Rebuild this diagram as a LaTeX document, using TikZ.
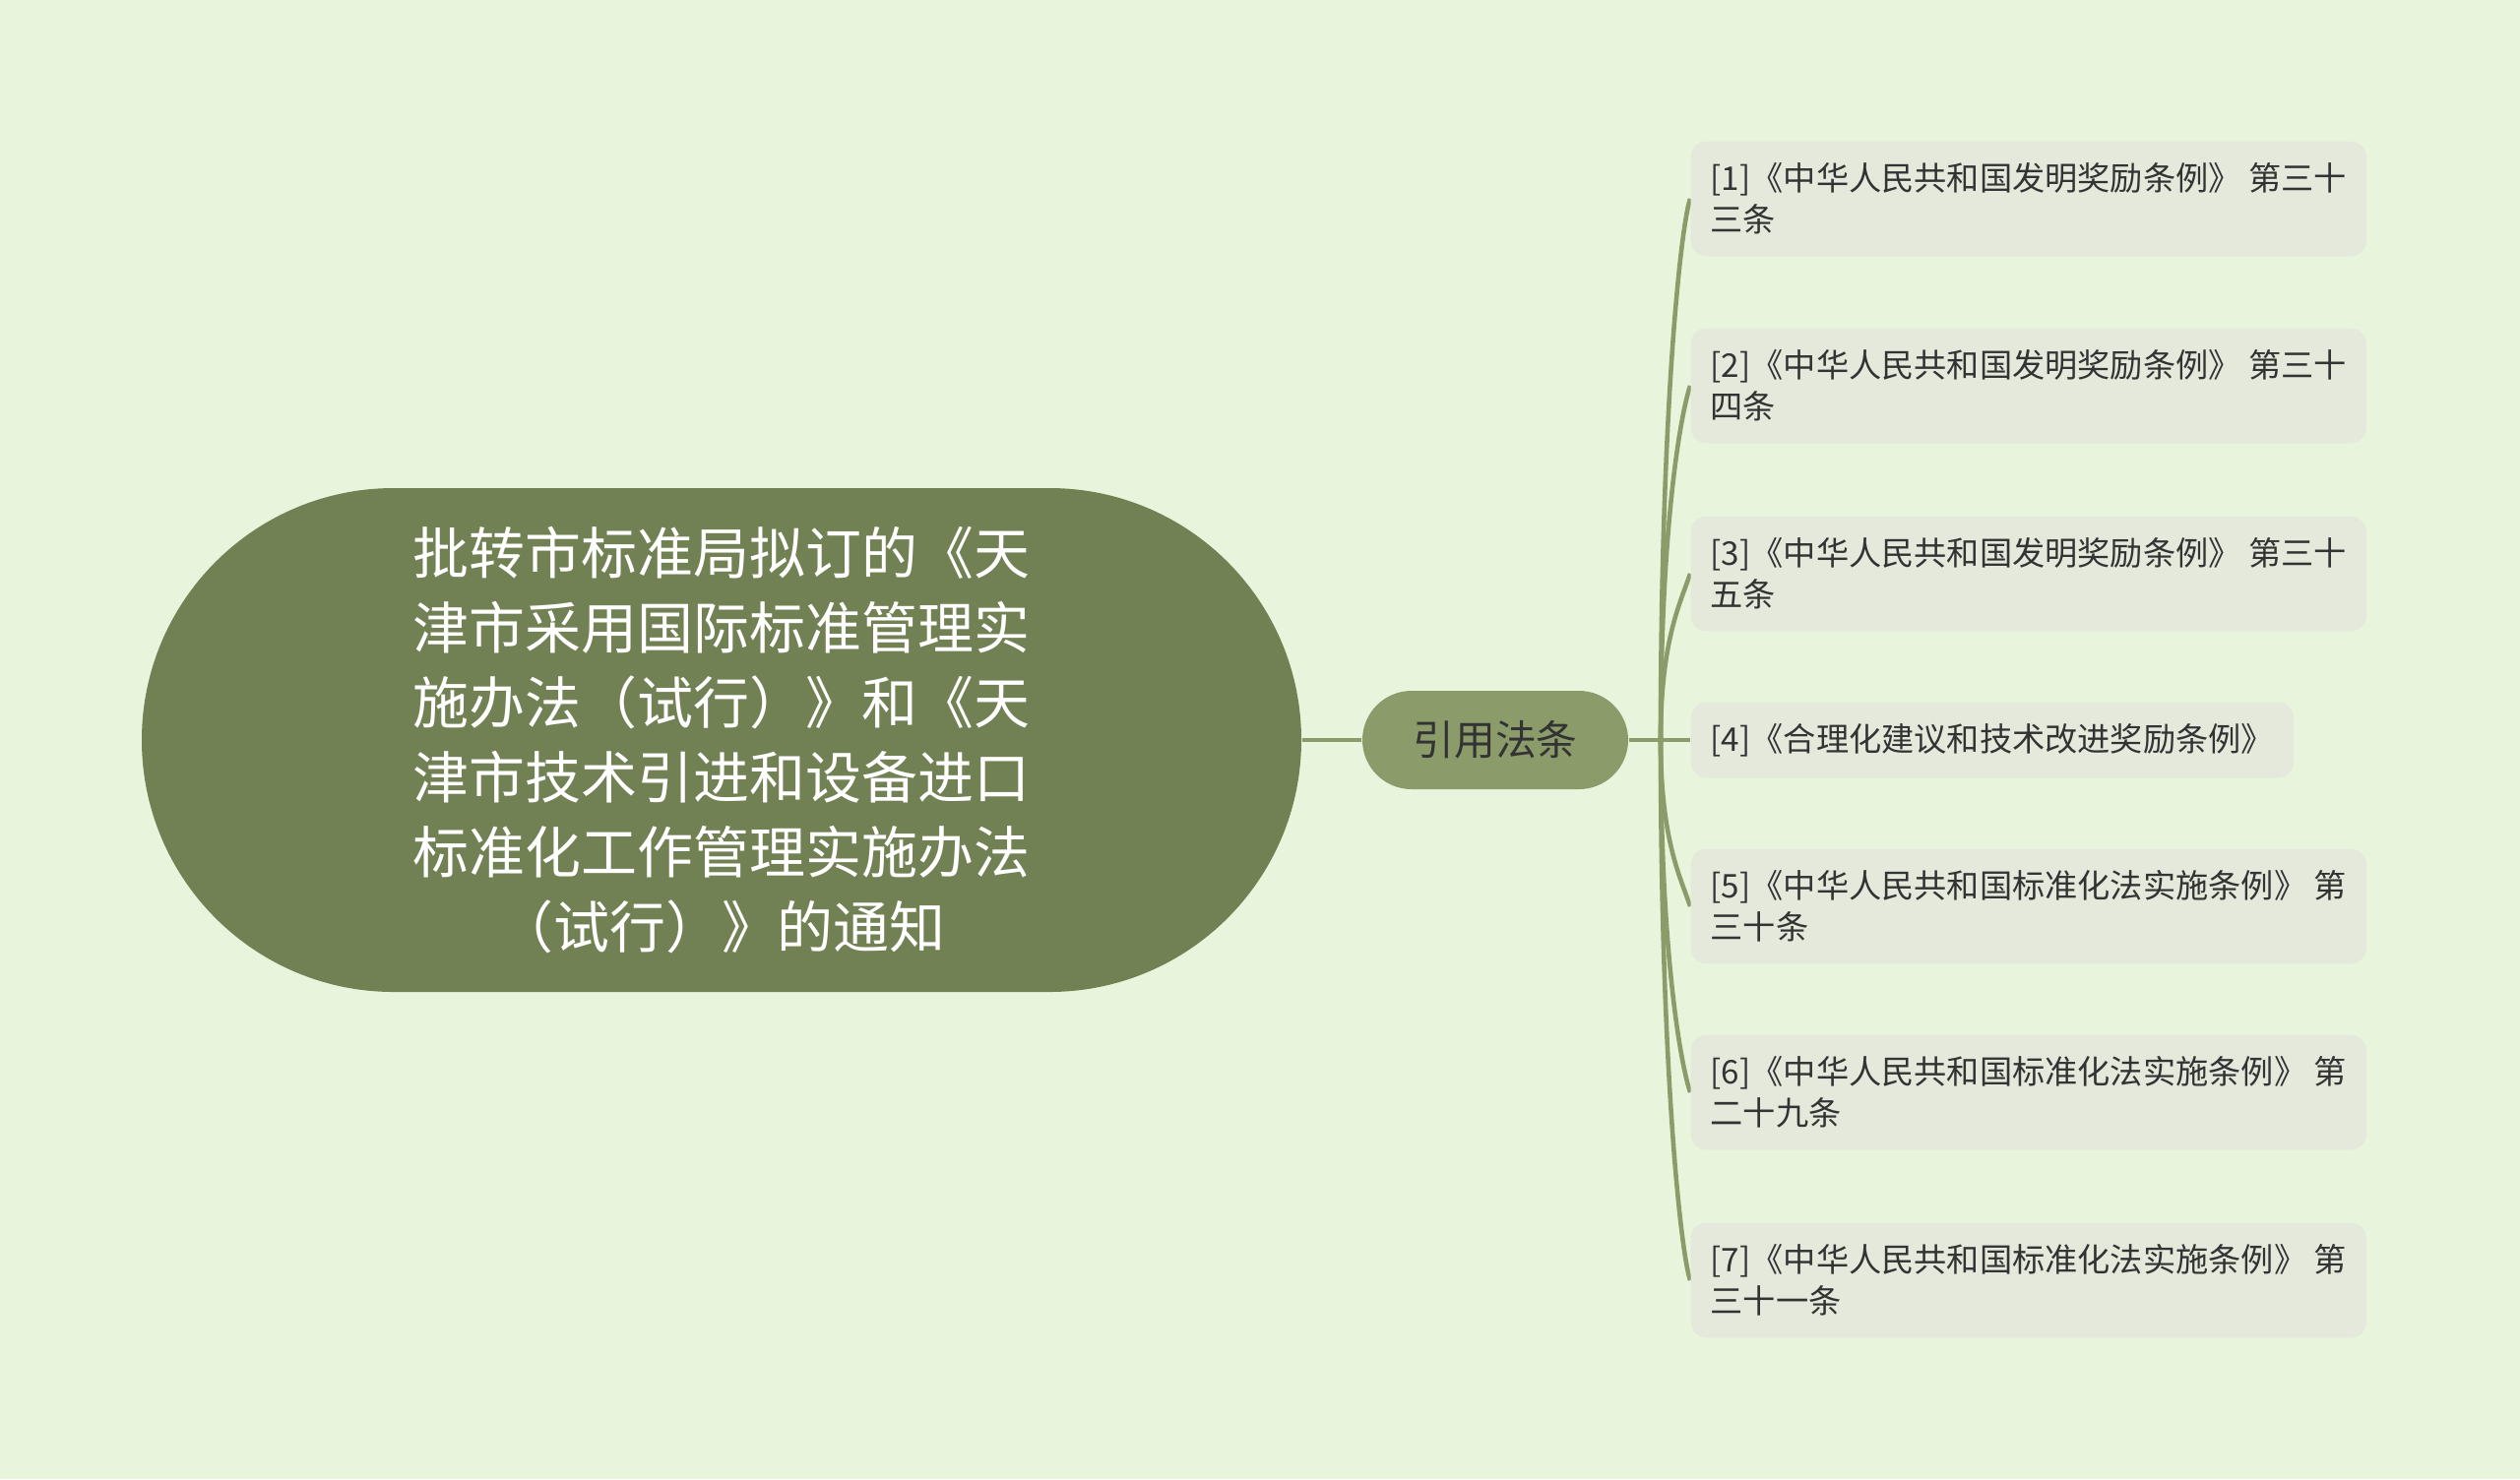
\documentclass[tikz,border=0pt]{standalone}
\usepackage{fontspec}
\setmainfont{Noto Sans CJK SC}
\usepackage{tikz}
\usetikzlibrary{calc}
\usetikzlibrary{positioning}
\usetikzlibrary{backgrounds}

\definecolor{bgcol}{HTML}{E8F5DC}
\definecolor{rootcol}{HTML}{728154}
\definecolor{midcol}{HTML}{8B9B6A}
\definecolor{leafcol}{HTML}{E4E9DC}
\definecolor{txtcol}{HTML}{333333}

\begin{document}
\begin{tikzpicture}[
        rootnode/.style={rectangle, fill=rootcol, text=white, rounded corners=2.56cm,
            minimum width=11.78cm, minimum height=5.12cm, align=center,
            font=\fontsize{16.2pt}{21.6pt}\selectfont},
        midnode/.style={rectangle, fill=midcol, text=txtcol, rounded corners=0.5cm,
            minimum width=2.70cm, minimum height=1.00cm,
            font=\fontsize{11.9pt}{14pt}\selectfont},
        leafnode/.style={rectangle, fill=leafcol, text=txtcol, rounded corners=0.16cm,
            anchor=west, align=left, inner xsep=0.2cm, minimum height=1.17cm,
            font=\fontsize{9.45pt}{11.9pt}\selectfont},
        link/.style={draw=midcol, line width=1.3pt}
    ]
        \useasboundingbox (0,0) rectangle (25.6,-15.03);

        \node[rootnode] (root) at (7.33,-7.52)
            {批转市标准局拟订的《天\\津市采用国际标准管理实\\施办法（试行）》和《天\\津市技术引进和设备进口\\标准化工作管理实施办法\\（试行）》的通知};
        \node[midnode] (law) at (15.19,-7.52) {引用法条};
        \coordinate (trunk) at (16.87,-7.52);

        \begin{scope}[every node/.style={leafnode}]
            \node (l1) at (17.17,-2.02) {[1]《中华人民共和国发明奖励条例》 第三十\\三条};
            \node (l2) at (17.17,-3.92) {[2]《中华人民共和国发明奖励条例》 第三十\\四条};
            \node (l3) at (17.17,-5.83) {[3]《中华人民共和国发明奖励条例》 第三十\\五条};
            \node[minimum height=0.77cm] (l4) at (17.17,-7.52) {[4]《合理化建议和技术改进奖励条例》};
            \node (l5) at (17.17,-9.21) {[5]《中华人民共和国标准化法实施条例》 第\\三十条};
            \node (l6) at (17.17,-11.10) {[6]《中华人民共和国标准化法实施条例》 第\\二十九条};
            \node (l7) at (17.17,-13.01) {[7]《中华人民共和国标准化法实施条例》 第\\三十一条};
        \end{scope}

        \begin{scope}[on background layer]
            \fill[bgcol] (0,0) rectangle (25.6,-15.03);
            \draw[link] (root.east) -- (law.west);
            \draw[link] (law.east) -- (trunk) -- (l4.west);
            \foreach \leaf/\s in {l1/1,l2/1,l3/1,l5/-1,l6/-1,l7/-1}
                \draw[link] (trunk)
                    .. controls ($(trunk)!0.6!(trunk|-\leaf.west)$)
                    and ($(\leaf.west)+(-0.1,-0.3*\s)$) .. (\leaf.west);
        \end{scope}
    \end{tikzpicture}
\end{document}
